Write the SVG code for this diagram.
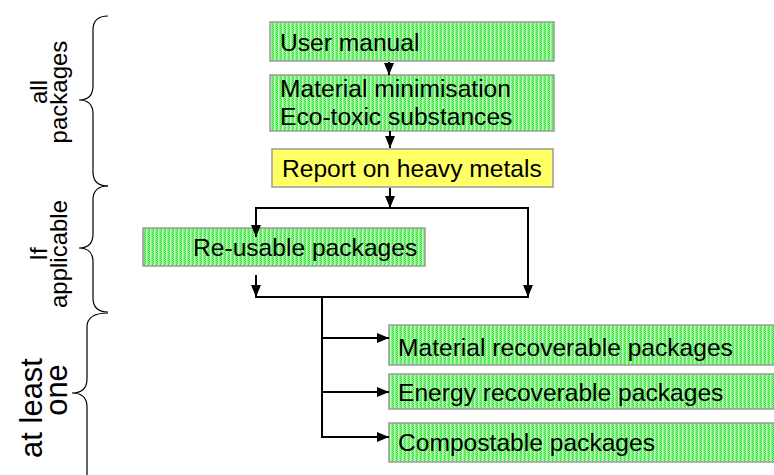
<svg xmlns="http://www.w3.org/2000/svg" width="774" height="475" viewBox="0 0 774 475">
  <defs>
    <pattern id="dots" width="4" height="2" patternUnits="userSpaceOnUse">
      <rect width="4" height="2" fill="#8af58a"/>
      <rect x="0" y="0" width="1" height="1" fill="#3fd83f"/>
      <rect x="1" y="1" width="1" height="1" fill="#3fd83f"/>
      <rect x="2" y="0" width="1" height="2" fill="#b8ffb8"/>
    </pattern>
    <marker id="arr" viewBox="0 0 12 10" refX="12" refY="5" markerWidth="12" markerHeight="10" markerUnits="userSpaceOnUse" orient="auto">
      <path d="M0,0 L12,5 L0,10 z" fill="#000"/>
    </marker>
  </defs>
  <style>
    .box { fill: url(#dots); stroke: #9a9a9a; stroke-width: 1.5; }
    .yellow { fill: #ffff66; stroke: #9a9a9a; stroke-width: 1.5; }
    .t { font-family: "Liberation Sans", Arial, sans-serif; font-size: 24.6px; fill: #000; }
    .side { font-family: "Liberation Sans", Arial, sans-serif; font-size: 24px; fill: #000; }
    .big { font-size: 31px; }
    .ln { fill: none; stroke: #000; stroke-width: 2; }
    .br { fill: none; stroke: #000; stroke-width: 1.2; }
  </style>
  <rect width="774" height="475" fill="#fff"/>

  <!-- side braces and their labels -->
  <g id="brace-all">
    <path class="br" d="M108,16 Q93,16 93,30 L93,86 Q93,100 79,100 Q93,100 93,114 L93,172 Q93,186 108,186"/>
    <text class="side" transform="translate(47,92) rotate(-90)" text-anchor="middle">all</text>
    <text class="side" transform="translate(67,92) rotate(-90)" text-anchor="middle">packages</text>
  </g>
  <g id="brace-applicable">
    <path class="br" d="M108,186 Q93,186 93,200 L93,234 Q93,248 79,248 Q93,248 93,262 L93,298 Q93,312 108,312"/>
    <text class="side" transform="translate(47,254) rotate(-90)" text-anchor="middle">If</text>
    <text class="side" transform="translate(67,254) rotate(-90)" text-anchor="middle">applicable</text>
  </g>
  <g id="brace-one">
    <path class="br" d="M108,313 Q87,313 87,327 L87,379 Q87,393 72,393 Q87,393 87,407 L87,475"/>
    <text class="side big" transform="translate(42,408) rotate(-90)" text-anchor="middle">at least</text>
    <text class="side big" transform="translate(67,390) rotate(-90)" text-anchor="middle">one</text>
  </g>

  <!-- boxes -->
  <g id="user-manual">
    <rect class="box" x="270" y="22" width="284" height="39"/>
    <text class="t" x="280" y="51">User manual</text>
  </g>
  <g id="material-minimisation">
    <rect class="box" x="270" y="75" width="284" height="56"/>
    <text class="t" x="280" y="97">Material minimisation</text>
    <text class="t" x="280" y="125">Eco-toxic substances</text>
  </g>
  <g id="heavy-metals">
    <rect class="yellow" x="272" y="149" width="281" height="38"/>
    <text class="t" x="282" y="177">Report on heavy metals</text>
  </g>
  <g id="re-usable">
    <rect class="box" x="143" y="228" width="282" height="38"/>
    <text class="t" x="193" y="256">Re-usable packages</text>
  </g>
  <g id="material-recoverable">
    <rect class="box" x="389" y="325" width="390" height="40"/>
    <text class="t" x="398" y="356">Material recoverable packages</text>
  </g>
  <g id="energy-recoverable">
    <rect class="box" x="389" y="374" width="390" height="35"/>
    <text class="t" x="398" y="401">Energy recoverable packages</text>
  </g>
  <g id="compostable">
    <rect class="box" x="389" y="423" width="390" height="39"/>
    <text class="t" x="398" y="451">Compostable packages</text>
  </g>

  <!-- connectors, drawn over the boxes -->
  <g id="connectors">
    <line class="ln" x1="389" y1="62" x2="389" y2="75" marker-end="url(#arr)"/>
    <line class="ln" x1="390" y1="131" x2="390" y2="148" marker-end="url(#arr)"/>
    <line class="ln" x1="390" y1="188" x2="390" y2="208" marker-end="url(#arr)"/>
    <polyline class="ln" points="256,208 528,208 528,297" marker-end="url(#arr)"/>
    <line class="ln" x1="256" y1="207" x2="256" y2="237" marker-end="url(#arr)"/>
    <line class="ln" x1="256" y1="275" x2="256" y2="297" marker-end="url(#arr)"/>
    <line class="ln" x1="255" y1="297" x2="529" y2="297"/>
    <line class="ln" x1="322" y1="297" x2="322" y2="438"/>
    <line class="ln" x1="322" y1="338" x2="389" y2="338" marker-end="url(#arr)"/>
    <line class="ln" x1="322" y1="392" x2="389" y2="392" marker-end="url(#arr)"/>
    <line class="ln" x1="321" y1="437" x2="389" y2="437" marker-end="url(#arr)"/>
  </g>
</svg>
